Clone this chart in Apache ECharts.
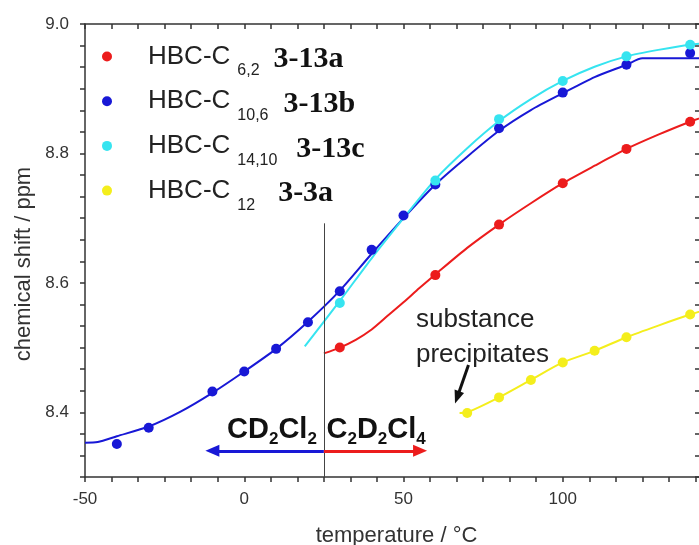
<!DOCTYPE html>
<html>
<head>
<meta charset="utf-8">
<script src="https://cdn.jsdelivr.net/npm/echarts@6/dist/echarts.min.js"></script>
<style>
html,body{margin:0;padding:0;background:#fff;}
#chart{width:699px;height:545px;}
</style>
</head>
<body>
<div id="chart"></div>
<script>
// ---- data ----
const seriesNames = ['HBC-C6,2', 'HBC-C10,6', 'HBC-C14,10', 'HBC-C12'];
const seriesSubs = ['6,2', '10,6', '14,10', '12'];
const compoundLabels = ['3-13a', '3-13b', '3-13c', '3-3a'];
const colors = ['#ec1c1c', '#1818d6', '#36e4f0', '#f4ee1c'];

// measured points
const redX = [30, 60, 80, 100, 120, 140];
const redY = [8.500, 8.612, 8.690, 8.754, 8.807, 8.849];
const blueX = [-40, -30, -10, 0, 10, 20, 30, 40, 50, 60, 80, 100, 120, 140];
const blueY = [8.351, 8.376, 8.432, 8.463, 8.498, 8.539, 8.587, 8.651, 8.704, 8.752, 8.839, 8.894, 8.937, 8.955];
const cyanX = [30, 60, 80, 100, 120, 140];
const cyanY = [8.569, 8.758, 8.853, 8.912, 8.950, 8.968];
const yellowX = [70, 80, 90, 100, 110, 120, 140];
const yellowY = [8.399, 8.423, 8.450, 8.477, 8.495, 8.516, 8.551];

// fitted curves
const redFitX = [25, 30, 35, 40, 45, 50, 55, 60, 70, 80, 90, 100, 110, 120, 130, 140, 150];
const redFitY = [8.491, 8.500, 8.512, 8.528, 8.549, 8.570, 8.592, 8.613, 8.654, 8.690, 8.723, 8.754, 8.781, 8.807, 8.829, 8.849, 8.866];
const blueFitX = [-50, -46, -40, -30, -20, -10, 0, 10, 20, 30, 40, 50, 60, 70, 80, 90, 100, 110, 120, 125, 150];
const blueFitY = [8.353, 8.354, 8.363, 8.378, 8.401, 8.430, 8.463, 8.498, 8.540, 8.588, 8.645, 8.700, 8.752, 8.795, 8.835, 8.867, 8.893, 8.918, 8.937, 8.947, 8.947];
const cyanFitX = [19, 30, 40, 50, 60, 70, 80, 90, 100, 110, 120, 130, 140, 150];
const cyanFitY = [8.502, 8.572, 8.638, 8.700, 8.760, 8.808, 8.850, 8.884, 8.912, 8.934, 8.950, 8.960, 8.968, 8.972];
const yellowFitX = [67.6, 70, 80, 90, 100, 110, 120, 130, 140, 150];
const yellowFitY = [8.399, 8.400, 8.423, 8.450, 8.477, 8.495, 8.516, 8.534, 8.551, 8.566];

// annotations
const roomTemp = 25;
const dividerTop = 8.692;
const arrowY = 8.3405;
const arrowLeftEnd = -10;
const arrowRightEnd = 55.2;
const precipArrowFrom = [70.4, 8.473];
const precipArrowTo = [66.85, 8.423];
const solventLeftPos = [8.7, 8.3730];
const solventRightPos = [41.4, 8.3730];
const precipTextPos = [53.9, 8.516];

// axis ticks
const xMin = -50, xMax = 150, xStep = 50;
const yMin = 8.3, yMax = 9.0, yStep = 0.1;

const pairs = (xs, ys) => xs.map((x, i) => [x, ys[i]]);
const FONT = "'Liberation Sans', Arial, sans-serif";
const AX = '#333';

const pointsX = [redX, blueX, cyanX, yellowX];
const pointsY = [redY, blueY, cyanY, yellowY];
const fitX = [redFitX, blueFitX, cyanFitX, yellowFitX];
const fitY = [redFitY, blueFitY, cyanFitY, yellowFitY];

const legendPad = [14, 15, 19, 23];
const legendRich = {
  n: {fontSize: 26, lineHeight: 30, color: '#222', fontFamily: FONT, padding: [0, 0, 0, 31]},
  s: {fontSize: 16, lineHeight: 30, color: '#222', fontFamily: FONT, padding: [29, 0, 0, 7]}
};
legendPad.forEach((p, i) => {
  legendRich['b' + i] = {fontSize: 30, lineHeight: 30, fontWeight: 'bold', color: '#111',
    fontFamily: "'Liberation Serif', 'Times New Roman', serif", padding: [6, 0, 0, p]};
});

const solventRich = {
  big: {fontSize: 29, fontWeight: 'bold', lineHeight: 32, color: '#111', fontFamily: FONT},
  sub: {fontSize: 17, fontWeight: 'bold', lineHeight: 32, color: '#111', fontFamily: FONT, padding: [20, 0, 0, 0]}
};

const series = [];
fitX.forEach((xs, i) => {
  series.push({
    type: 'line', name: seriesNames[i] + ' fit', data: pairs(xs, fitY[i]),
    showSymbol: false, symbol: 'none', smooth: 0.25,
    lineStyle: {color: colors[i], width: 2}, z: 2, silent: true
  });
});
pointsX.forEach((xs, i) => {
  series.push({
    type: 'scatter', name: seriesNames[i], data: pairs(xs, pointsY[i]),
    symbol: 'circle', symbolSize: 10, itemStyle: {color: colors[i], opacity: 1}, z: 4
  });
});

// annotation layer attached to an otherwise empty line series
series.push({
  type: 'line', name: 'annotations', data: [], silent: true, z: 5,
  markLine: {
    silent: true, animation: false, symbol: ['none', 'none'], label: {show: false},
    data: [
      [{coord: [roomTemp, dividerTop], lineStyle: {color: '#444', width: 1, type: 'solid'}}, {coord: [roomTemp, yMin]}],
      [{coord: [roomTemp, arrowY], lineStyle: {color: '#1818d6', width: 3, type: 'solid'}},
       {coord: [arrowLeftEnd, arrowY], symbol: 'triangle', symbolSize: [12, 14]}],
      [{coord: [roomTemp, arrowY], lineStyle: {color: '#ec1c1c', width: 3, type: 'solid'}},
       {coord: [arrowRightEnd, arrowY], symbol: 'triangle', symbolSize: [12, 14]}],
      [{coord: precipArrowFrom, lineStyle: {color: '#111', width: 3, type: 'solid'}},
       {coord: precipArrowTo, symbol: 'triangle', symbolSize: [10, 13]}]
    ]
  },
  markPoint: {
    silent: true, animation: false, symbol: 'circle', symbolSize: 0,
    data: [
      {coord: solventLeftPos, label: {show: true, position: 'inside', formatter: '{big|CD}{sub|2}{big|Cl}{sub|2}', rich: solventRich}},
      {coord: solventRightPos, label: {show: true, position: 'inside', formatter: '{big|C}{sub|2}{big|D}{sub|2}{big|Cl}{sub|4}', rich: solventRich}},
      {coord: precipTextPos, label: {show: true, position: 'inside', align: 'left', verticalAlign: 'middle',
        formatter: 'substance\nprecipitates', fontSize: 26, lineHeight: 35, color: '#222', fontFamily: FONT}}
    ]
  }
});

const tickStyle = {color: AX, width: 1.5};
const option = {
  animation: false,
  backgroundColor: '#ffffff',
  grid: {left: 85, right: -23, top: 24, bottom: 68, containLabel: false, outerBoundsMode: 'none'},
  legend: {
    orient: 'vertical', left: 102, top: 34, padding: 0,
    itemWidth: 10, itemHeight: 10, itemGap: -0.3, icon: 'circle',
    selectedMode: false,
    data: seriesNames,
    formatter: name => {
      const i = seriesNames.indexOf(name);
      return '{n|HBC-C}{s|' + seriesSubs[i] + '}{b' + i + '|' + compoundLabels[i] + '}';
    },
    textStyle: {rich: legendRich}
  },
  xAxis: [
    {
      type: 'value', min: xMin, max: xMax, interval: xStep, position: 'bottom',
      axisLine: {show: true, onZero: false, lineStyle: {color: AX, width: 1.5}},
      axisTick: {show: true, length: 5, lineStyle: tickStyle},
      minorTick: {show: true, splitNumber: 6, length: 5, lineStyle: tickStyle},
      splitLine: {show: false},
      axisLabel: {fontSize: 17, color: '#333', margin: 14, fontFamily: FONT},
      name: 'temperature / °C', nameLocation: 'middle', nameGap: 48,
      nameTextStyle: {fontSize: 22, color: '#333', fontFamily: FONT, padding: [0, 14, 0, 0]}
    },
    {
      type: 'value', min: xMin, max: xMax, interval: xStep, position: 'top',
      axisLine: {show: true, onZero: false, lineStyle: {color: AX, width: 1.5}},
      axisTick: {show: true, inside: true, length: 5, lineStyle: tickStyle},
      minorTick: {show: true, splitNumber: 6, length: 5, lineStyle: tickStyle},
      splitLine: {show: false}, axisLabel: {show: false}
    }
  ],
  yAxis: [
    {
      type: 'value', min: yMin, max: yMax, interval: yStep, position: 'left',
      axisLine: {show: true, onZero: false, lineStyle: {color: AX, width: 1.5}},
      axisTick: {show: true, length: 5, lineStyle: tickStyle},
      minorTick: {show: true, splitNumber: 3, length: 5, lineStyle: tickStyle},
      splitLine: {show: false},
      axisLabel: {fontSize: 17, color: '#333', margin: 16, fontFamily: FONT,
        formatter: v => (Math.round(v * 10) % 2 === 0 ? v.toFixed(1) : '')},
      name: 'chemical shift / ppm', nameLocation: 'middle', nameGap: 50,
      nameTextStyle: {fontSize: 22, color: '#333', fontFamily: FONT, padding: [0, 27, 0, 0]}
    },
    {
      type: 'value', min: yMin, max: yMax, interval: yStep, position: 'right', offset: -22,
      axisLine: {show: false, onZero: false},
      axisTick: {show: true, inside: true, length: 5, lineStyle: tickStyle},
      minorTick: {show: true, splitNumber: 3, length: 5, lineStyle: tickStyle},
      splitLine: {show: false}, axisLabel: {show: false}
    }
  ],
  series: series
};

const chart = echarts.init(document.getElementById('chart'), null, {renderer: 'canvas'});
chart.setOption(option);
</script>
</body>
</html>
